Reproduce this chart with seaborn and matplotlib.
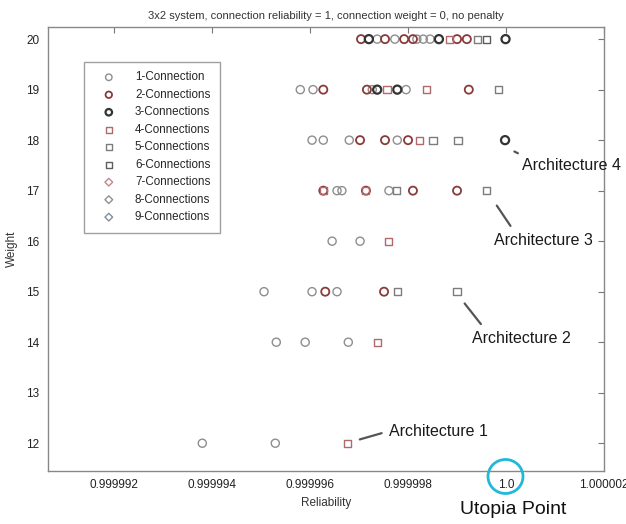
import matplotlib
matplotlib.use("Agg")
import matplotlib.pyplot as plt
from matplotlib.patches import Ellipse
import seaborn as sns
import pandas as pd

# ---------------- data ----------------
series_names = ["1-Connection", "2-Connections", "3-Connections",
                "4-Connections", "5-Connections", "6-Connections",
                "7-Connections", "8-Connections", "9-Connections"]

rel_1 = [0.99999380, 0.99999529,
         0.99999531, 0.99999590, 0.99999678,
         0.99999506, 0.99999604, 0.99999655,
         0.99999645, 0.99999702,
         0.99999655, 0.99999665, 0.99999761,
         0.99999604, 0.99999627, 0.99999680, 0.99999778,
         0.99999580, 0.99999606, 0.99999727, 0.99999796,
         0.99999737, 0.99999773, 0.99999818, 0.99999831, 0.99999845]
wt_1 = [12, 12,
        14, 14, 14,
        15, 15, 15,
        16, 16,
        17, 17, 17,
        18, 18, 18, 18,
        19, 19, 19, 19,
        20, 20, 20, 20, 20]

rel_2 = [0.99999631, 0.99999751,
         0.99999627, 0.99999714, 0.99999810, 0.99999900,
         0.99999702, 0.99999753, 0.99999800,
         0.99999627, 0.99999716, 0.99999924,
         0.99999704, 0.99999753, 0.99999792, 0.99999810, 0.99999900, 0.99999920]
wt_2 = [15, 15,
        17, 17, 17, 17,
        18, 18, 18,
        19, 19, 19,
        20, 20, 20, 20, 20, 20]

rel_3 = [0.99999998, 0.99999737, 0.99999778, 0.99999720, 0.99999863, 0.99999999]
wt_3 = [18, 19, 19, 20, 20, 20]

rel_4 = [0.99999676, 0.99999737, 0.99999761, 0.99999627, 0.99999714,
         0.99999824, 0.99999757, 0.99999837, 0.99999884]
wt_4 = [12, 14, 16, 17, 17, 18, 19, 19, 20]

rel_5 = [0.99999778, 0.99999900, 0.99999776, 0.99999961,
         0.99999851, 0.99999902, 0.99999984, 0.99999941]
wt_5 = [15, 15, 17, 17, 18, 18, 19, 20]

rel_6 = [0.99999961]
wt_6 = [20]

rel_7, wt_7 = [], []
rel_8, wt_8 = [], []
rel_9, wt_9 = [], []

x_ticks = [0.999992, 0.999994, 0.999996, 0.999998, 1.0, 1.000002]
x_tick_labels = ["0.999992", "0.999994", "0.999996", "0.999998", "1.0", "1.000002"]
y_ticks = [12, 13, 14, 15, 16, 17, 18, 19, 20]

# annotations: (label, point xy, text xy, relpos)
annotations = [
    ("Architecture 1", (0.99999696, 12.06), (0.99999761, 12.24), (0.0, 0.5)),
    ("Architecture 2", (0.99999912, 14.81), (0.99999931, 14.08), (0.14, 1.0)),
    ("Architecture 3", (0.99999978, 16.75), (0.99999976, 16.02), (0.21, 1.0)),
    ("Architecture 4", (1.00000012, 17.80), (1.00000033, 17.49), (0.06, 1.0)),
]

# ---------------- style ----------------
sns.set_theme(style="white")
plt.rcParams["font.family"] = ["Liberation Sans", "DejaVu Sans"]

colors = ["#8e8e8e", "#8b3a3a", "#333333", "#b06a6a", "#7c7c7c",
          "#5e5e5e", "#c08a8a", "#909090", "#8090a0"]
markers = ["o", "o", "o", "s", "s", "s", "D", "D", "D"]
sizes = [34, 34, 34, 26, 26, 26, 24, 24, 24]
lws = [1.0, 1.3, 1.6, 1.0, 1.0, 1.0, 1.0, 1.0, 1.0]

rels = [rel_1, rel_2, rel_3, rel_4, rel_5, rel_6, rel_7, rel_8, rel_9]
wts = [wt_1, wt_2, wt_3, wt_4, wt_5, wt_6, wt_7, wt_8, wt_9]

fig = plt.figure(figsize=(6.26, 5.24), dpi=100)
ax = fig.add_axes([48 / 626, 1 - 471 / 524, 556 / 626, 444 / 524])

for name, r, w, c, m, s, lw in zip(series_names, rels, wts, colors, markers, sizes, lws):
    df = pd.DataFrame({"Reliability": r, "Weight": w}, dtype=float)
    if len(df):
        sns.scatterplot(data=df, x="Reliability", y="Weight", ax=ax, marker=m, s=s,
                        facecolor="none", edgecolor=c, linewidth=lw, label=name,
                        legend=False, zorder=3)
    else:
        ax.scatter([], [], marker=m, s=s, facecolors="none", edgecolors=c,
                   linewidths=lw, label=name)

ax.set_xlim(0.99999065, 1.000002)
ax.set_ylim(11.45, 20.24)
ax.set_xticks(x_ticks)
ax.set_xticklabels(x_tick_labels)
ax.set_yticks(y_ticks)
ax.tick_params(direction="in", length=4, width=0.8, color="#777777",
               labelsize=8.5, labelcolor="#222222", top=True, right=True, pad=6)
for sp in ax.spines.values():
    sp.set_color("#888888")
    sp.set_linewidth(1.0)

ax.set_xlabel("Reliability", fontsize=8.5, color="#333333", labelpad=4)
ax.set_ylabel("Weight", fontsize=8.5, color="#333333", labelpad=6)
ax.set_title("3x2 system, connection reliability = 1, connection weight = 0, no penalty",
             fontsize=8, color="#333333", pad=6)

leg = ax.legend(loc="upper left", bbox_to_anchor=(36 / 556, 1 - 35 / 444),
                frameon=True, fancybox=False, fontsize=8.4, handlelength=2.65,
                handletextpad=0.92, labelspacing=0.47, borderpad=0.8,
                borderaxespad=0, markerscale=0.8)
leg.get_frame().set_edgecolor("#888888")
leg.get_frame().set_linewidth(1.0)

for label, xy, xyt, rp in annotations:
    ax.annotate(label, xy=xy, xytext=xyt, textcoords="data", ha="left", va="center",
                fontsize=11.5, color="#1a1a1a",
                arrowprops=dict(arrowstyle="-", color="#555555", lw=1.6,
                                shrinkA=3, shrinkB=2, relpos=rp))

# Utopia point highlight
fig.add_artist(Ellipse((505.5 / 626, 1 - 476.5 / 524), width=35 / 626, height=34 / 524,
                       transform=fig.transFigure, fill=False, edgecolor="#22b8da", lw=2))
fig.text(513 / 626, 1 - 509 / 524, "Utopia Point", ha="center", va="center",
         fontsize=14, color="#111111")

fig.savefig("out.png", dpi=100)
